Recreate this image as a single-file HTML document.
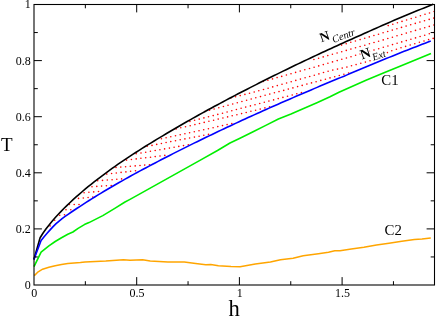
<!DOCTYPE html>
<html><head><meta charset="utf-8"><title>T-h phase diagram</title>
<style>
html,body{margin:0;padding:0;background:#fff;}
body{width:436px;height:317px;overflow:hidden;font-family:"Liberation Serif",serif;}
svg{display:block;will-change:transform;}
text{font-family:"Liberation Serif",serif;fill:#000;}
</style></head><body>
<svg width="436" height="317" viewBox="0 0 436 317">
<rect width="436" height="317" fill="#fff"/>
<g fill="#ff0000"><circle cx="50.1" cy="225.9" r="0.8"/><circle cx="54.7" cy="220.3" r="0.8"/><circle cx="59.7" cy="215.2" r="0.8"/><circle cx="64.5" cy="214.8" r="0.8"/><circle cx="66.0" cy="209.8" r="0.8"/><circle cx="70.8" cy="209.8" r="0.8"/><circle cx="69.4" cy="204.5" r="0.8"/><circle cx="74.2" cy="204.5" r="0.8"/><circle cx="79.0" cy="204.5" r="0.8"/><circle cx="78.5" cy="198.4" r="0.8"/><circle cx="83.3" cy="198.0" r="0.8"/><circle cx="88.1" cy="197.5" r="0.8"/><circle cx="92.8" cy="197.1" r="0.8"/><circle cx="84.1" cy="192.7" r="0.8"/><circle cx="88.9" cy="192.3" r="0.8"/><circle cx="93.7" cy="191.9" r="0.8"/><circle cx="98.5" cy="191.5" r="0.8"/><circle cx="92.0" cy="186.7" r="0.8"/><circle cx="96.8" cy="186.4" r="0.8"/><circle cx="101.6" cy="186.1" r="0.8"/><circle cx="106.4" cy="185.8" r="0.8"/><circle cx="111.2" cy="185.5" r="0.8"/><circle cx="97.7" cy="180.8" r="0.8"/><circle cx="102.5" cy="180.4" r="0.8"/><circle cx="107.3" cy="180.0" r="0.8"/><circle cx="112.1" cy="179.7" r="0.8"/><circle cx="116.8" cy="179.3" r="0.8"/><circle cx="121.6" cy="178.9" r="0.8"/><circle cx="106.8" cy="174.1" r="0.8"/><circle cx="111.6" cy="173.5" r="0.8"/><circle cx="116.3" cy="173.0" r="0.8"/><circle cx="121.1" cy="172.4" r="0.8"/><circle cx="125.9" cy="171.9" r="0.8"/><circle cx="130.6" cy="171.3" r="0.8"/><circle cx="135.5" cy="170.8" r="0.8"/><circle cx="116.0" cy="167.5" r="0.8"/><circle cx="120.8" cy="167.1" r="0.8"/><circle cx="125.6" cy="166.7" r="0.8"/><circle cx="130.3" cy="166.3" r="0.8"/><circle cx="135.2" cy="165.9" r="0.8"/><circle cx="140.0" cy="165.5" r="0.8"/><circle cx="144.7" cy="165.1" r="0.8"/><circle cx="149.5" cy="164.7" r="0.8"/><circle cx="126.6" cy="160.1" r="0.8"/><circle cx="131.4" cy="159.5" r="0.8"/><circle cx="136.2" cy="158.9" r="0.8"/><circle cx="140.9" cy="158.3" r="0.8"/><circle cx="145.7" cy="157.7" r="0.8"/><circle cx="150.5" cy="157.2" r="0.8"/><circle cx="155.2" cy="156.6" r="0.8"/><circle cx="160.0" cy="156.0" r="0.8"/><circle cx="164.8" cy="155.4" r="0.8"/><circle cx="136.2" cy="153.8" r="0.8"/><circle cx="141.0" cy="153.0" r="0.8"/><circle cx="145.7" cy="152.2" r="0.8"/><circle cx="150.4" cy="151.3" r="0.8"/><circle cx="155.2" cy="150.5" r="0.8"/><circle cx="159.9" cy="149.7" r="0.8"/><circle cx="164.6" cy="148.9" r="0.8"/><circle cx="169.4" cy="148.1" r="0.8"/><circle cx="174.1" cy="147.3" r="0.8"/><circle cx="178.8" cy="146.4" r="0.8"/><circle cx="183.5" cy="145.6" r="0.8"/><circle cx="188.3" cy="144.8" r="0.8"/><circle cx="147.2" cy="146.3" r="0.8"/><circle cx="152.0" cy="145.4" r="0.8"/><circle cx="156.7" cy="144.4" r="0.8"/><circle cx="161.4" cy="143.5" r="0.8"/><circle cx="166.1" cy="142.5" r="0.8"/><circle cx="170.8" cy="141.6" r="0.8"/><circle cx="175.5" cy="140.7" r="0.8"/><circle cx="180.2" cy="139.8" r="0.8"/><circle cx="184.9" cy="138.9" r="0.8"/><circle cx="189.6" cy="138.0" r="0.8"/><circle cx="194.4" cy="137.1" r="0.8"/><circle cx="199.1" cy="136.2" r="0.8"/><circle cx="203.8" cy="135.3" r="0.8"/><circle cx="208.5" cy="134.4" r="0.8"/><circle cx="161.4" cy="138.8" r="0.8"/><circle cx="166.1" cy="137.8" r="0.8"/><circle cx="170.8" cy="136.8" r="0.8"/><circle cx="175.5" cy="135.7" r="0.8"/><circle cx="180.2" cy="134.7" r="0.8"/><circle cx="184.9" cy="133.7" r="0.8"/><circle cx="189.6" cy="132.7" r="0.8"/><circle cx="194.3" cy="131.7" r="0.8"/><circle cx="199.0" cy="130.7" r="0.8"/><circle cx="203.7" cy="129.7" r="0.8"/><circle cx="208.4" cy="128.7" r="0.8"/><circle cx="213.1" cy="127.7" r="0.8"/><circle cx="217.8" cy="126.6" r="0.8"/><circle cx="222.5" cy="125.6" r="0.8"/><circle cx="227.1" cy="124.6" r="0.8"/><circle cx="231.8" cy="123.6" r="0.8"/><circle cx="176.1" cy="128.9" r="0.8"/><circle cx="180.8" cy="127.8" r="0.8"/><circle cx="185.5" cy="126.8" r="0.8"/><circle cx="190.2" cy="125.7" r="0.8"/><circle cx="194.9" cy="124.6" r="0.8"/><circle cx="199.5" cy="123.5" r="0.8"/><circle cx="204.2" cy="122.4" r="0.8"/><circle cx="208.9" cy="121.3" r="0.8"/><circle cx="213.6" cy="120.2" r="0.8"/><circle cx="218.2" cy="119.1" r="0.8"/><circle cx="222.9" cy="118.0" r="0.8"/><circle cx="227.6" cy="116.9" r="0.8"/><circle cx="232.2" cy="115.8" r="0.8"/><circle cx="236.9" cy="114.7" r="0.8"/><circle cx="241.6" cy="113.6" r="0.8"/><circle cx="246.2" cy="112.5" r="0.8"/><circle cx="250.9" cy="111.3" r="0.8"/><circle cx="255.6" cy="110.2" r="0.8"/><circle cx="260.2" cy="109.1" r="0.8"/><circle cx="264.9" cy="107.9" r="0.8"/><circle cx="269.6" cy="106.8" r="0.8"/><circle cx="189.9" cy="121.5" r="0.8"/><circle cx="194.6" cy="120.3" r="0.8"/><circle cx="199.2" cy="119.1" r="0.8"/><circle cx="203.9" cy="117.9" r="0.8"/><circle cx="208.5" cy="116.8" r="0.8"/><circle cx="213.2" cy="115.6" r="0.8"/><circle cx="217.8" cy="114.4" r="0.8"/><circle cx="222.5" cy="113.2" r="0.8"/><circle cx="227.1" cy="112.0" r="0.8"/><circle cx="231.8" cy="110.7" r="0.8"/><circle cx="236.4" cy="109.5" r="0.8"/><circle cx="241.1" cy="108.3" r="0.8"/><circle cx="245.7" cy="107.1" r="0.8"/><circle cx="250.4" cy="105.9" r="0.8"/><circle cx="255.0" cy="104.7" r="0.8"/><circle cx="259.7" cy="103.5" r="0.8"/><circle cx="264.3" cy="102.3" r="0.8"/><circle cx="268.9" cy="101.1" r="0.8"/><circle cx="273.6" cy="99.9" r="0.8"/><circle cx="278.2" cy="98.6" r="0.8"/><circle cx="282.9" cy="97.4" r="0.8"/><circle cx="287.5" cy="96.2" r="0.8"/><circle cx="292.2" cy="95.0" r="0.8"/><circle cx="296.8" cy="93.7" r="0.8"/><circle cx="301.4" cy="92.5" r="0.8"/><circle cx="204.8" cy="111.5" r="0.8"/><circle cx="209.5" cy="110.2" r="0.8"/><circle cx="214.1" cy="109.0" r="0.8"/><circle cx="218.8" cy="107.7" r="0.8"/><circle cx="223.4" cy="106.5" r="0.8"/><circle cx="228.0" cy="105.3" r="0.8"/><circle cx="232.7" cy="104.0" r="0.8"/><circle cx="237.3" cy="102.8" r="0.8"/><circle cx="241.9" cy="101.5" r="0.8"/><circle cx="246.6" cy="100.3" r="0.8"/><circle cx="251.2" cy="99.0" r="0.8"/><circle cx="255.8" cy="97.8" r="0.8"/><circle cx="260.5" cy="96.6" r="0.8"/><circle cx="265.1" cy="95.3" r="0.8"/><circle cx="269.8" cy="94.1" r="0.8"/><circle cx="274.4" cy="92.8" r="0.8"/><circle cx="279.0" cy="91.6" r="0.8"/><circle cx="283.7" cy="90.4" r="0.8"/><circle cx="288.3" cy="89.1" r="0.8"/><circle cx="292.9" cy="87.9" r="0.8"/><circle cx="297.6" cy="86.6" r="0.8"/><circle cx="302.2" cy="85.4" r="0.8"/><circle cx="306.9" cy="84.1" r="0.8"/><circle cx="311.5" cy="82.9" r="0.8"/><circle cx="316.1" cy="81.7" r="0.8"/><circle cx="320.8" cy="80.4" r="0.8"/><circle cx="325.4" cy="79.2" r="0.8"/><circle cx="330.0" cy="77.9" r="0.8"/><circle cx="334.7" cy="76.7" r="0.8"/><circle cx="339.3" cy="75.5" r="0.8"/><circle cx="343.9" cy="74.2" r="0.8"/><circle cx="348.6" cy="73.0" r="0.8"/><circle cx="230.9" cy="98.0" r="0.8"/><circle cx="235.6" cy="96.8" r="0.8"/><circle cx="240.2" cy="95.6" r="0.8"/><circle cx="244.9" cy="94.4" r="0.8"/><circle cx="249.5" cy="93.2" r="0.8"/><circle cx="254.2" cy="92.0" r="0.8"/><circle cx="258.8" cy="90.8" r="0.8"/><circle cx="263.5" cy="89.5" r="0.8"/><circle cx="268.1" cy="88.2" r="0.8"/><circle cx="272.7" cy="86.9" r="0.8"/><circle cx="277.3" cy="85.6" r="0.8"/><circle cx="282.0" cy="84.3" r="0.8"/><circle cx="286.6" cy="83.0" r="0.8"/><circle cx="291.2" cy="81.7" r="0.8"/><circle cx="295.8" cy="80.4" r="0.8"/><circle cx="300.4" cy="79.1" r="0.8"/><circle cx="305.1" cy="77.8" r="0.8"/><circle cx="309.7" cy="76.5" r="0.8"/><circle cx="314.3" cy="75.2" r="0.8"/><circle cx="318.9" cy="73.9" r="0.8"/><circle cx="323.5" cy="72.5" r="0.8"/><circle cx="328.1" cy="71.2" r="0.8"/><circle cx="332.8" cy="70.1" r="0.8"/><circle cx="337.5" cy="69.1" r="0.8"/><circle cx="342.2" cy="68.1" r="0.8"/><circle cx="346.9" cy="67.1" r="0.8"/><circle cx="351.5" cy="65.8" r="0.8"/><circle cx="356.1" cy="64.6" r="0.8"/><circle cx="360.8" cy="63.3" r="0.8"/><circle cx="365.4" cy="62.1" r="0.8"/><circle cx="370.0" cy="60.7" r="0.8"/><circle cx="374.3" cy="58.6" r="0.8"/><circle cx="378.6" cy="56.5" r="0.8"/><circle cx="383.0" cy="54.5" r="0.8"/><circle cx="387.4" cy="52.6" r="0.8"/><circle cx="391.8" cy="50.7" r="0.8"/><circle cx="396.4" cy="49.3" r="0.8"/><circle cx="401.0" cy="47.8" r="0.8"/><circle cx="405.6" cy="46.4" r="0.8"/><circle cx="410.2" cy="45.0" r="0.8"/><circle cx="414.8" cy="43.7" r="0.8"/><circle cx="419.4" cy="42.3" r="0.8"/><circle cx="424.0" cy="41.0" r="0.8"/><circle cx="428.6" cy="39.6" r="0.8"/><circle cx="433.2" cy="38.4" r="0.8"/><circle cx="263.2" cy="81.5" r="0.8"/><circle cx="267.9" cy="80.2" r="0.8"/><circle cx="272.5" cy="78.9" r="0.8"/><circle cx="277.1" cy="77.6" r="0.8"/><circle cx="281.7" cy="76.4" r="0.8"/><circle cx="286.4" cy="75.0" r="0.8"/><circle cx="291.0" cy="73.7" r="0.8"/><circle cx="295.6" cy="72.4" r="0.8"/><circle cx="300.2" cy="71.1" r="0.8"/><circle cx="304.8" cy="69.8" r="0.8"/><circle cx="309.5" cy="68.5" r="0.8"/><circle cx="314.1" cy="67.2" r="0.8"/><circle cx="318.7" cy="65.9" r="0.8"/><circle cx="323.3" cy="64.6" r="0.8"/><circle cx="327.9" cy="63.3" r="0.8"/><circle cx="332.5" cy="61.9" r="0.8"/><circle cx="337.2" cy="60.6" r="0.8"/><circle cx="341.8" cy="59.3" r="0.8"/><circle cx="346.4" cy="58.0" r="0.8"/><circle cx="351.0" cy="56.7" r="0.8"/><circle cx="355.6" cy="55.3" r="0.8"/><circle cx="360.2" cy="54.0" r="0.8"/><circle cx="364.8" cy="52.7" r="0.8"/><circle cx="369.4" cy="51.3" r="0.8"/><circle cx="374.0" cy="50.0" r="0.8"/><circle cx="378.7" cy="48.7" r="0.8"/><circle cx="383.3" cy="47.3" r="0.8"/><circle cx="387.9" cy="46.0" r="0.8"/><circle cx="392.5" cy="44.6" r="0.8"/><circle cx="397.1" cy="43.3" r="0.8"/><circle cx="401.7" cy="41.9" r="0.8"/><circle cx="406.3" cy="40.6" r="0.8"/><circle cx="410.9" cy="39.2" r="0.8"/><circle cx="415.5" cy="37.9" r="0.8"/><circle cx="420.1" cy="36.5" r="0.8"/><circle cx="424.7" cy="35.2" r="0.8"/><circle cx="429.3" cy="33.8" r="0.8"/><circle cx="433.9" cy="32.5" r="0.8"/><circle cx="313.9" cy="59.5" r="0.8"/><circle cx="318.6" cy="58.2" r="0.8"/><circle cx="323.2" cy="56.9" r="0.8"/><circle cx="327.8" cy="55.6" r="0.8"/><circle cx="332.4" cy="54.3" r="0.8"/><circle cx="337.1" cy="53.0" r="0.8"/><circle cx="341.7" cy="51.7" r="0.8"/><circle cx="346.3" cy="50.4" r="0.8"/><circle cx="350.9" cy="49.1" r="0.8"/><circle cx="355.5" cy="47.8" r="0.8"/><circle cx="360.1" cy="46.5" r="0.8"/><circle cx="364.8" cy="45.2" r="0.8"/><circle cx="369.4" cy="43.8" r="0.8"/><circle cx="374.0" cy="42.5" r="0.8"/><circle cx="378.6" cy="41.2" r="0.8"/><circle cx="383.2" cy="39.9" r="0.8"/><circle cx="387.8" cy="38.5" r="0.8"/><circle cx="392.4" cy="37.2" r="0.8"/><circle cx="397.0" cy="35.8" r="0.8"/><circle cx="401.7" cy="34.5" r="0.8"/><circle cx="406.3" cy="33.1" r="0.8"/><circle cx="410.9" cy="31.8" r="0.8"/><circle cx="415.5" cy="30.4" r="0.8"/><circle cx="420.1" cy="29.1" r="0.8"/><circle cx="424.7" cy="27.7" r="0.8"/><circle cx="429.3" cy="26.4" r="0.8"/><circle cx="433.9" cy="25.0" r="0.8"/><circle cx="341.6" cy="45.1" r="0.8"/><circle cx="346.2" cy="43.7" r="0.8"/><circle cx="350.8" cy="42.3" r="0.8"/><circle cx="355.4" cy="41.0" r="0.8"/><circle cx="360.1" cy="39.6" r="0.8"/><circle cx="364.7" cy="38.2" r="0.8"/><circle cx="369.3" cy="36.9" r="0.8"/><circle cx="373.9" cy="35.5" r="0.8"/><circle cx="378.5" cy="34.2" r="0.8"/><circle cx="383.1" cy="32.8" r="0.8"/><circle cx="387.7" cy="31.5" r="0.8"/><circle cx="392.3" cy="30.1" r="0.8"/><circle cx="396.9" cy="28.8" r="0.8"/><circle cx="401.5" cy="27.4" r="0.8"/><circle cx="406.1" cy="26.1" r="0.8"/><circle cx="410.7" cy="24.7" r="0.8"/><circle cx="415.3" cy="23.4" r="0.8"/><circle cx="419.9" cy="22.1" r="0.8"/><circle cx="424.5" cy="20.7" r="0.8"/><circle cx="429.2" cy="19.4" r="0.8"/><circle cx="433.8" cy="18.1" r="0.8"/><circle cx="388.2" cy="25.6" r="0.8"/><circle cx="392.8" cy="24.2" r="0.8"/><circle cx="397.4" cy="22.8" r="0.8"/><circle cx="402.0" cy="21.4" r="0.8"/><circle cx="406.6" cy="20.0" r="0.8"/><circle cx="411.2" cy="18.6" r="0.8"/><circle cx="415.8" cy="17.2" r="0.8"/><circle cx="420.4" cy="15.8" r="0.8"/><circle cx="425.0" cy="14.3" r="0.8"/><circle cx="429.5" cy="13.0" r="0.8"/><circle cx="434.1" cy="11.5" r="0.8"/></g>
<g transform="translate(361.9,59.5) rotate(-19)" fill="#fff" stroke="#fff" stroke-width="2.2" stroke-linejoin="round"><text x="0" y="0" font-size="14.1" font-weight="bold" style="fill:#fff">N</text><text x="10.7" y="4.9" font-size="10.2" font-style="italic" style="fill:#fff">Ext</text></g>
<g fill="none" stroke-linejoin="round" stroke-linecap="butt">
<path d="M34.30 275.60 L38.20 271.80 L42.60 269.20 L48.90 267.30 L55.20 265.80 L61.50 264.50 L67.80 263.50 L74.10 262.90 L80.40 262.50 L85.00 261.90 L105.80 261.10 L123.40 259.70 L130.00 260.20 L142.60 259.70 L150.20 261.00 L167.90 262.00 L184.30 262.00 L195.70 263.50 L205.80 264.70 L210.80 264.50 L218.40 265.80 L231.00 266.50 L240.10 266.80 L255.30 264.00 L270.40 262.00 L280.50 259.70 L293.10 258.20 L303.20 255.70 L318.40 253.70 L328.50 252.20 L334.80 250.70 L340.00 250.70 L351.30 249.00 L363.90 247.20 L376.50 245.00 L389.00 243.30 L401.80 241.30 L414.40 239.40 L422.00 238.90 L430.80 238.00" stroke="#ffa500" stroke-width="1.5"/>
<path d="M34.00 266.70 L41.10 252.20 L48.90 245.90 L55.20 241.50 L61.50 237.70 L67.80 234.30 L72.90 232.00 L78.10 228.40 L84.40 224.60 L89.00 222.60 L102.80 215.60 L114.80 208.40 L125.00 202.00 L130.00 199.35 L139.00 194.35 L201.25 159.60 L217.50 150.50 L230.00 143.00 L240.50 138.00 L253.10 131.70 L265.80 125.40 L278.40 119.00 L291.00 114.00 L302.50 109.00 L317.50 102.50 L330.00 96.80 L339.00 92.20 L366.00 80.20 L382.80 73.30 L400.00 66.30 L415.20 60.00 L431.00 53.50" stroke="#00ee00" stroke-width="1.6"/>
<path d="M33.90 259.50 L40.10 237.72 L43.10 233.04 L46.10 228.83 L49.10 224.93 L52.10 221.27 L55.10 217.81 L58.10 214.50 L61.10 211.33 L64.10 208.28 L67.10 205.32 L70.10 202.46 L73.10 199.67 L76.10 196.96 L79.10 194.32 L82.10 191.74 L85.10 189.21 L88.10 186.74 L91.10 184.31 L94.10 181.93 L97.10 179.59 L100.10 177.29 L103.10 175.03 L106.10 172.80 L109.10 170.61 L112.10 168.45 L115.10 166.31 L118.10 164.20 L121.10 162.13 L124.10 160.11 L127.10 158.11 L130.10 156.13 L133.10 154.17 L136.10 152.23 L139.10 150.32 L142.10 148.42 L145.10 146.54 L148.10 144.68 L151.10 142.83 L154.10 141.01 L157.10 139.19 L160.10 137.39 L163.10 135.58 L166.10 133.78 L169.10 131.99 L172.10 130.22 L175.10 128.46 L178.10 126.71 L181.10 124.97 L184.10 123.25 L187.10 121.54 L190.10 119.83 L193.10 118.14 L196.10 116.46 L199.10 114.78 L202.10 113.12 L205.10 111.47 L208.10 109.82 L211.10 108.19 L214.10 106.56 L217.10 104.94 L220.10 103.33 L223.10 101.73 L226.10 100.13 L229.10 98.54 L232.10 96.97 L235.10 95.39 L238.10 93.83 L241.10 92.27 L244.10 90.72 L247.10 89.18 L250.10 87.64 L253.10 86.11 L256.10 84.59 L259.10 83.07 L262.10 81.56 L265.10 80.05 L268.10 78.56 L271.10 77.06 L274.10 75.58 L277.10 74.10 L280.10 72.62 L283.10 71.15 L286.10 69.69 L289.10 68.23 L292.10 66.78 L295.10 65.34 L298.10 63.90 L301.10 62.46 L304.10 61.03 L307.10 59.61 L310.10 58.19 L313.10 56.78 L316.10 55.37 L319.10 53.97 L322.10 52.58 L325.10 51.19 L328.10 49.80 L331.10 48.42 L334.10 47.05 L337.10 45.68 L340.10 44.31 L343.10 42.95 L346.10 41.60 L349.10 40.25 L352.10 38.91 L355.10 37.57 L358.10 36.24 L361.10 34.90 L364.10 33.55 L367.10 32.20 L370.10 30.86 L373.10 29.53 L376.10 28.20 L379.10 26.87 L382.10 25.55 L385.10 24.24 L388.10 22.93 L391.10 21.63 L394.10 20.33 L397.10 19.04 L400.10 17.75 L403.10 16.50 L406.10 15.26 L409.10 14.02 L412.10 12.79 L415.10 11.56 L418.10 10.34 L421.10 9.12 L424.10 7.91 L427.10 6.70 L430.10 5.51 L433.10 4.31 L433.30 4.23" stroke="#000" stroke-width="1.6"/>
<path d="M33.90 259.51 L41.10 240.52 L44.10 236.67 L47.10 233.26 L50.10 229.88 L53.10 226.62 L56.10 223.68 L59.10 221.04 L62.10 218.67 L65.10 216.44 L68.10 214.30 L71.10 212.23 L74.10 210.23 L77.10 208.27 L80.10 206.36 L83.10 204.37 L86.10 202.41 L89.10 200.48 L92.10 198.59 L95.10 196.72 L98.10 194.88 L101.10 193.06 L104.10 191.26 L107.10 189.48 L110.10 187.72 L113.10 185.97 L116.10 184.24 L119.10 182.53 L122.10 180.83 L125.10 179.15 L128.10 177.48 L131.10 175.82 L134.10 174.17 L137.10 172.53 L140.10 170.91 L143.10 169.29 L146.10 167.68 L149.10 166.09 L152.10 164.50 L155.10 162.93 L158.10 161.36 L161.10 159.80 L164.10 158.25 L167.10 156.70 L170.10 155.17 L173.10 153.64 L176.10 152.12 L179.10 150.61 L182.10 149.10 L185.10 147.60 L188.10 146.11 L191.10 144.63 L194.10 143.15 L197.10 141.68 L200.10 140.22 L203.10 138.76 L206.10 137.31 L209.10 135.86 L212.10 134.42 L215.10 132.99 L218.10 131.56 L221.10 130.14 L224.10 128.72 L227.10 127.32 L230.10 125.91 L233.10 124.51 L236.10 123.12 L239.10 121.73 L242.10 120.35 L245.10 118.97 L248.10 117.60 L251.10 116.23 L254.10 114.87 L257.10 113.52 L260.10 112.16 L263.10 110.82 L266.10 109.48 L269.10 108.14 L272.10 106.81 L275.10 105.48 L278.10 104.16 L281.10 102.84 L284.10 101.53 L287.10 100.22 L290.10 98.91 L293.10 97.61 L296.10 96.32 L299.10 95.03 L302.10 93.74 L305.10 92.46 L308.10 91.18 L311.10 89.90 L314.10 88.63 L317.10 87.37 L320.10 86.11 L323.10 84.85 L326.10 83.59 L329.10 82.34 L332.10 81.10 L335.10 79.85 L338.10 78.61 L341.10 77.38 L344.10 76.15 L347.10 74.88 L350.10 73.61 L353.10 72.35 L356.10 71.08 L359.10 69.82 L362.10 68.56 L365.10 67.31 L368.10 66.06 L371.10 64.81 L374.10 63.56 L377.10 62.32 L380.10 61.08 L383.10 59.85 L386.10 58.61 L389.10 57.38 L392.10 56.16 L395.10 54.93 L398.10 53.71 L401.10 52.51 L404.10 51.34 L407.10 50.17 L410.10 49.01 L413.10 47.85 L416.10 46.69 L419.10 45.53 L422.10 44.37 L425.10 43.22 L428.10 42.07 L430.75 41.06" stroke="#0000ff" stroke-width="1.6"/>
</g>
<g stroke="#000" stroke-width="1.0">
<line x1="85.35" y1="285.00" x2="85.35" y2="281.20"/>
<line x1="85.35" y1="4.50" x2="85.35" y2="8.30"/>
<line x1="136.70" y1="285.00" x2="136.70" y2="277.10"/>
<line x1="136.70" y1="4.50" x2="136.70" y2="12.40"/>
<line x1="188.05" y1="285.00" x2="188.05" y2="281.20"/>
<line x1="188.05" y1="4.50" x2="188.05" y2="8.30"/>
<line x1="239.40" y1="285.00" x2="239.40" y2="277.10"/>
<line x1="239.40" y1="4.50" x2="239.40" y2="12.40"/>
<line x1="290.75" y1="285.00" x2="290.75" y2="281.20"/>
<line x1="290.75" y1="4.50" x2="290.75" y2="8.30"/>
<line x1="342.10" y1="285.00" x2="342.10" y2="277.10"/>
<line x1="342.10" y1="4.50" x2="342.10" y2="12.40"/>
<line x1="393.45" y1="285.00" x2="393.45" y2="281.20"/>
<line x1="393.45" y1="4.50" x2="393.45" y2="8.30"/>
<line x1="34.00" y1="256.95" x2="37.80" y2="256.95"/>
<line x1="434.50" y1="256.95" x2="430.70" y2="256.95"/>
<line x1="34.00" y1="228.90" x2="41.90" y2="228.90"/>
<line x1="434.50" y1="228.90" x2="426.60" y2="228.90"/>
<line x1="34.00" y1="200.85" x2="37.80" y2="200.85"/>
<line x1="434.50" y1="200.85" x2="430.70" y2="200.85"/>
<line x1="34.00" y1="172.80" x2="41.90" y2="172.80"/>
<line x1="434.50" y1="172.80" x2="426.60" y2="172.80"/>
<line x1="34.00" y1="144.75" x2="37.80" y2="144.75"/>
<line x1="434.50" y1="144.75" x2="430.70" y2="144.75"/>
<line x1="34.00" y1="116.70" x2="41.90" y2="116.70"/>
<line x1="434.50" y1="116.70" x2="426.60" y2="116.70"/>
<line x1="34.00" y1="88.65" x2="37.80" y2="88.65"/>
<line x1="434.50" y1="88.65" x2="430.70" y2="88.65"/>
<line x1="34.00" y1="60.60" x2="41.90" y2="60.60"/>
<line x1="434.50" y1="60.60" x2="426.60" y2="60.60"/>
<line x1="34.00" y1="32.55" x2="37.80" y2="32.55"/>
<line x1="434.50" y1="32.55" x2="430.70" y2="32.55"/>
</g>
<rect x="34.00" y="4.50" width="400.50" height="280.50" fill="none" stroke="#000" stroke-width="1.08"/>
<g>
<text x="30.8" y="289.10" text-anchor="end" font-size="12">0</text>
<text x="30.8" y="233.00" text-anchor="end" font-size="12">0.2</text>
<text x="30.8" y="176.90" text-anchor="end" font-size="12">0.4</text>
<text x="30.8" y="120.80" text-anchor="end" font-size="12">0.6</text>
<text x="30.8" y="64.70" text-anchor="end" font-size="12">0.8</text>
<text x="30.8" y="8.00" text-anchor="end" font-size="12">1</text>
<text x="34.30" y="296.8" text-anchor="middle" font-size="12">0</text>
<text x="137.00" y="296.8" text-anchor="middle" font-size="12">0.5</text>
<text x="239.70" y="296.8" text-anchor="middle" font-size="12">1</text>
<text x="342.40" y="296.8" text-anchor="middle" font-size="12">1.5</text>
<text x="1" y="151" font-size="19">T</text>
<text x="228.6" y="316.2" font-size="22.6">h</text>
<text x="381.3" y="84.5" font-size="14.8">C1</text>
<text x="384.6" y="235.1" font-size="14.8">C2</text>
<g transform="translate(321.6,42.2) rotate(-20)"><text x="0" y="0" font-size="13.4" font-weight="bold">N</text><text x="11.0" y="4.8" font-size="10.4" font-style="italic">Centr</text></g>
<g transform="translate(361.9,59.5) rotate(-19)"><text x="0" y="0" font-size="14.1" font-weight="bold">N</text><text x="10.7" y="4.9" font-size="10.2" font-style="italic">Ext</text></g>
</g>
</svg>
</body></html>
